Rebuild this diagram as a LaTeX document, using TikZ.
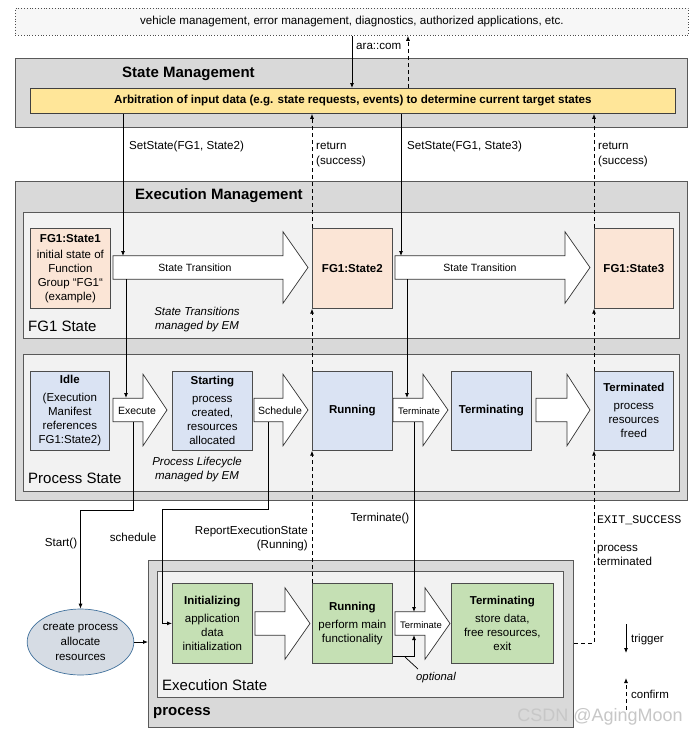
\documentclass[tikz,border=0pt]{standalone}
\usepackage{fontspec}
\setmainfont{Liberation Sans}
\setmonofont{Liberation Mono}
\usetikzlibrary{arrows.meta,shapes.geometric,calc}
\definecolor{outergray}{HTML}{D9D9D9}
\definecolor{panelgray}{HTML}{F2F2F2}
\definecolor{bordergray}{HTML}{595959}
\definecolor{peach}{HTML}{FBE5D6}
\definecolor{lblue}{HTML}{DAE3F3}
\definecolor{lgreen}{HTML}{C5E0B4}
\definecolor{lyellow}{HTML}{FFE699}
\definecolor{ellfill}{HTML}{D6DCE4}
\definecolor{ellborder}{HTML}{41719C}
\definecolor{topfill}{HTML}{F7F7F7}
\newcommand{\fs}[2][14]{\fontsize{#2}{#1}\selectfont}
% style, name, x1, y1, x2, y2, text
\newcommand{\rbox}[7]{\node[#1, anchor=north west, minimum width={(#5)-(#3)}, minimum height={(#6)-(#4)}] (#2) at (#3,#4) {#7};}
% x1, xhead, xtip, ymid
\newcommand{\fatarrow}[4]{\draw[bigarrow] (#1,#4-11.75) -- (#2,#4-11.75) -- (#2,#4-35.75) -- (#3,#4) -- (#2,#4+35.75) -- (#2,#4+11.75) -- (#1,#4+11.75) -- cycle;}
\begin{document}
\begin{tikzpicture}[x=1pt,y=-1pt,
  outer/.style={draw=bordergray, line width=1.3pt, fill=outergray, inner sep=0pt},
  panel/.style={draw=bordergray, line width=0.9pt, fill=panelgray, inner sep=0pt},
  topbox/.style={draw=black!70, dotted, line width=0.8pt, fill=topfill, inner sep=0pt, font=\fs{11.6}},
  ybox/.style={draw=black!75, line width=0.8pt, fill=lyellow, inner sep=0pt, font=\bfseries\fs{11.6}},
  sbox/.style={draw=black!70, line width=0.7pt, inner sep=0pt, align=center, font=\fs{11.5}},
  pbox/.style={sbox, fill=peach},
  bbox/.style={sbox, fill=lblue},
  gbox/.style={sbox, fill=lgreen},
  bigarrow/.style={draw=black!80, line width=0.7pt, fill=white},
  title/.style={anchor=west, inner sep=0pt, font=\bfseries\fs{15}},
  ptitle/.style={anchor=west, inner sep=0pt, font=\fs{15}},
  lbl/.style={inner sep=0pt, font=\fs{11.6}},
  alab/.style={inner sep=0pt, font=\fs{10.5}},
  conn/.style={draw=black, line width=0.8pt, -{Latex[length=5pt,width=4pt]}},
  dconn/.style={conn, dash pattern=on 4pt off 3pt},
]
\useasboundingbox (0,0) rectangle (699,737);
\fill[white] (0,0) rectangle (699,737);

% external
\rbox{topbox}{ext}{15}{8}{688}{35}{vehicle management, error management, diagnostics, authorized applications, etc.}

% State Management
\rbox{outer}{sm}{15}{58}{687}{127}{}
\node[title] (smt) at (122,74) {State Management};
\rbox{ybox}{arb}{30}{88}{675}{113}{Arbitration of input data (e.g. state requests, events) to determine current target states}

% Execution Management
\rbox{outer}{em}{15}{181}{687}{500}{}
\node[title] (emt) at (135,196) {Execution Management};
\rbox{panel}{fgp}{23}{212}{679}{338}{}
\node[ptitle] (fgpt) at (28,326) {FG1 State};
\rbox{panel}{psp}{23}{354}{679}{491}{}
\node[ptitle] (pspt) at (28,478) {Process State};

% process
\rbox{outer}{proc}{148}{560}{573}{727}{}
\node[title] (proct) at (153,713) {process};
\rbox{panel}{esp}{157}{571}{563}{697}{}
\node[ptitle] (espt) at (162,685) {Execution State};

% fat arrows
\fatarrow{113}{283}{308}{267.5}
\fatarrow{395}{565}{590}{267.5}
\fatarrow{113}{143}{167}{410}
\fatarrow{254}{283}{308}{410}
\fatarrow{393}{423}{448}{410}
\fatarrow{536}{567}{590}{410}
\fatarrow{255}{285}{310}{623.5}
\fatarrow{395}{425}{450}{623.5}

\node[alab] (st1) at (195,268) {State Transition};
\node[alab] (st2) at (480,268) {State Transition};
\node[alab] (exe) at (137,411) {Execute};
\node[alab] (sch) at (280,411) {Schedule};
\node[inner sep=0pt, font=\fs{9.5}] (trm) at (419,411) {Terminate};
\node[inner sep=0pt, font=\fs{9.5}] (etrm) at (421,625) {Terminate};

% FG1 states
\rbox{pbox}{s1}{30}{228}{110}{308}{\textbf{FG1:State1}\\[2pt]initial state of\\Function\\Group “FG1“\\(example)}
\rbox{pbox}{s2}{312}{228}{392}{308}{\textbf{FG1:State2}}
\rbox{pbox}{s3}{594}{228}{673}{308}{\textbf{FG1:State3}}

% process states
\rbox{bbox}{idle}{30}{371}{109}{450}{\textbf{Idle}\\[4pt](Execution\\Manifest\\references\\FG1:State2)}
\rbox{bbox}{start}{172}{371}{252}{450}{\textbf{Starting}\\[4pt]process\\created,\\resources\\allocated}
\rbox{bbox}{prun}{312}{371}{392}{450}{\textbf{Running}}
\rbox{bbox}{pting}{451}{371}{531}{450}{\textbf{Terminating}}
\rbox{bbox}{pterm}{594}{371}{673}{450}{\textbf{Terminated}\\[4pt]process\\resources\\freed}

% execution states
\rbox{gbox}{init}{172}{583}{252}{663}{\textbf{Initializing}\\[4pt]application\\data\\initialization}
\rbox{gbox}{erun}{312}{583}{392}{663}{\textbf{Running}\\[4pt]perform main\\functionality}
\rbox{gbox}{eterm}{451}{583}{553}{663}{\textbf{Terminating}\\[4pt]store data,\\free resources,\\exit}

\node[inner sep=0pt, align=center, font=\itshape\fs{11.5}] (fgnote) at (197,320) {State Transitions\\managed by EM};
\node[inner sep=0pt, align=center, font=\itshape\fs{11.5}] (psnote) at (197,470) {Process Lifecycle\\managed by EM};

% ellipse
\node[ellipse, draw=ellborder, line width=0.7pt, fill=ellfill, minimum width=101pt, minimum height=66pt, inner sep=0pt, align=center, font={\fs[15]{11.5}}] (cp) at (80.5,642) {create process\\allocate\\resources};

% x and y reference coordinates
\coordinate (xA) at (352,0);
\coordinate (xB) at (408,0);
\coordinate (xC) at (123,0);
\coordinate (xE) at (401,0);
\coordinate (xG) at (126,0);
\coordinate (xH) at (407,0);
\coordinate (xI) at (133,0);
\coordinate (xJ) at (268,0);
\coordinate (xK) at (414,0);
\coordinate (xM) at (162,0);
\coordinate (fgT) at (0,256);
\coordinate (fgB) at (0,279);
\coordinate (prT) at (0,398);
\coordinate (prB) at (0,422);
\coordinate (exT) at (0,612);
\coordinate (exB) at (0,635);
\coordinate (yK) at (0,510);
\coordinate (yS) at (0,509);
\coordinate (yOpt) at (0,656);
\coordinate (yEx) at (0,643);

% connectors
\draw[conn] (ext.south -| xA) -- (arb.north -| xA);
\node[lbl, anchor=west] (aralbl) at (356,46) {ara::com};
\draw[dconn] (arb.north -| xB) -- (ext.south -| xB);

\draw[conn] (arb.south -| xC) -- (xC |- fgT);
\node[lbl, anchor=west] (ss2) at (129,146) {SetState(FG1, State2)};
\draw[dconn] (s2.north west) -- (arb.south -| s2.west);
\node[lbl, anchor=west, align=left, font={\fs[15]{11.6}}] (ret1) at (316,154.5) {return\\(success)};

\draw[conn] (arb.south -| xE) -- (xE |- fgT);
\node[lbl, anchor=west] (ss3) at (407,146) {SetState(FG1, State3)};
\draw[dconn] (s3.north west) -- (arb.south -| s3.west);
\node[lbl, anchor=west, align=left, font={\fs[15]{11.6}}] (ret2) at (598,154.5) {return\\(success)};

\draw[dconn] (prun.north west) -- (s2.south west);
\draw[dconn] (pterm.north west) -- (s3.south west);

\draw[conn] (xG |- fgB) -- (xG |- prT);
\draw[conn] (xH |- fgB) -- (xH |- prT);

\draw[conn] (xI |- prB) -- (xI |- yK) -| (cp.north);
\node[lbl] (startl) at (61,543) {Start()};
\draw[conn] (xJ |- prB) -- (xJ |- yS) -- (xM |- yS) -- (xM |- init.west) -- (init.west);
\node[lbl] (schl) at (133,537) {schedule};

\draw[dconn] (erun.north west) -- (prun.south west);
\node[lbl, anchor=east, align=right, font={\fs[13.5]{11.6}}] (rep) at (308,538.5) {ReportExecutionState\\(Running)};

\draw[conn] (xK |- prB) -- (xK |- exT);
\node[lbl] (terml) at (380,518) {Terminate()};

\draw[conn] (erun.east |- yOpt) -- (xK |- yOpt) -- (xK |- exB);
\coordinate (optA) at (405,657);
\coordinate (optB) at (418,669);
\draw[line width=0.7pt] (optA) -- (optB);
\node[lbl, font=\itshape\fs{11.3}] (optl) at (436,678) {optional};

\draw[dconn] (proc.east |- yEx) -- (s3.west |- yEx) -- (pterm.south west);
\node[lbl, anchor=west, font=\ttfamily\fs{11.7}] (exitl) at (597,520) {EXIT\_SUCCESS};
\node[lbl, anchor=west, align=left] (ptl) at (597,555) {process\\terminated};

\draw[conn] (cp.east) -- (proc.west |- cp.east);

% legend
\coordinate (lgA) at (626,624);
\coordinate (lgB) at (626,653);
\coordinate (lgC) at (626,710);
\coordinate (lgD) at (626,678);
\draw[conn] (lgA) -- (lgB);
\node[lbl, anchor=west, font=\fs{11.5}] (trig) at (631,640) {trigger};
\draw[dconn] (lgC) -- (lgD);
\node[lbl, anchor=west, font=\fs{11.5}] (conf) at (631,694) {confirm};

% watermark
\node[inner sep=0pt, text=black!22, font={\fs[20]{18}}] (wm) at (600,717) {CSDN @AgingMoon};
\end{tikzpicture}
\end{document}
